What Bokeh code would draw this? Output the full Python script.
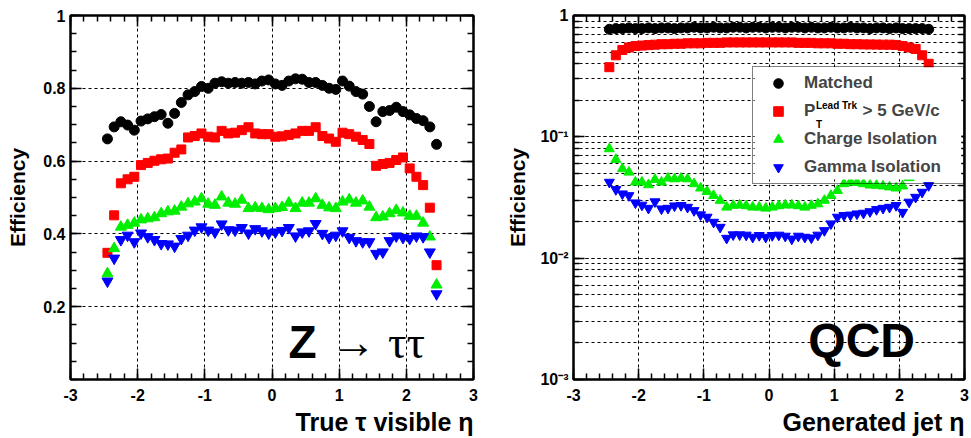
from bokeh.plotting import figure
from bokeh.layouts import row
from bokeh.models import (Range1d, FixedTicker, LinearAxis, LogAxis, Label,
                          Legend, LegendItem, BasicTickFormatter, Title, BoxAnnotation)
from bokeh.embed import file_html
from bokeh.resources import INLINE

# ---------------- data ----------------
eta = [-2.45, -2.35, -2.25, -2.15, -2.05, -1.95, -1.85, -1.75, -1.65, -1.55,
       -1.45, -1.35, -1.25, -1.15, -1.05, -0.95, -0.85, -0.75, -0.65, -0.55,
       -0.45, -0.35, -0.25, -0.15, -0.05, 0.05, 0.15, 0.25, 0.35, 0.45,
       0.55, 0.65, 0.75, 0.85, 0.95, 1.05, 1.15, 1.25, 1.35, 1.45,
       1.55, 1.65, 1.75, 1.85, 1.95, 2.05, 2.15, 2.25, 2.35, 2.45]

# Z -> tau tau
z_matched = [0.661, 0.694, 0.708, 0.699, 0.685, 0.710, 0.716, 0.722, 0.728, 0.704,
             0.731, 0.761, 0.782, 0.791, 0.805, 0.800, 0.814, 0.818, 0.814, 0.816,
             0.814, 0.816, 0.812, 0.820, 0.823, 0.812, 0.808, 0.820, 0.826, 0.825,
             0.816, 0.816, 0.808, 0.800, 0.797, 0.820, 0.806, 0.791, 0.784, 0.750,
             0.708, 0.736, 0.739, 0.748, 0.736, 0.727, 0.717, 0.711, 0.694, 0.646]
z_pt = [0.348, 0.451, 0.539, 0.550, 0.557, 0.589, 0.595, 0.601, 0.605, 0.607,
        0.623, 0.632, 0.665, 0.669, 0.676, 0.667, 0.665, 0.683, 0.676, 0.678,
        0.685, 0.693, 0.676, 0.674, 0.674, 0.667, 0.668, 0.672, 0.676, 0.683,
        0.683, 0.693, 0.669, 0.662, 0.653, 0.678, 0.674, 0.667, 0.658, 0.647,
        0.587, 0.592, 0.595, 0.603, 0.610, 0.580, 0.557, 0.534, 0.472, 0.314]
z_chg = [0.291, 0.360, 0.419, 0.424, 0.430, 0.439, 0.442, 0.445, 0.456, 0.461,
         0.463, 0.474, 0.483, 0.488, 0.497, 0.482, 0.479, 0.502, 0.485, 0.482,
         0.493, 0.470, 0.472, 0.470, 0.467, 0.470, 0.473, 0.485, 0.470, 0.485,
         0.485, 0.497, 0.479, 0.472, 0.470, 0.488, 0.494, 0.485, 0.491, 0.474,
         0.445, 0.447, 0.456, 0.465, 0.458, 0.449, 0.449, 0.430, 0.392, 0.260]
z_gam = [0.270, 0.333, 0.384, 0.396, 0.378, 0.402, 0.392, 0.384, 0.373, 0.372,
         0.366, 0.387, 0.396, 0.410, 0.419, 0.410, 0.405, 0.427, 0.411, 0.410,
         0.417, 0.402, 0.414, 0.408, 0.402, 0.405, 0.409, 0.417, 0.394, 0.405,
         0.408, 0.428, 0.401, 0.390, 0.396, 0.408, 0.390, 0.381, 0.378, 0.378,
         0.346, 0.350, 0.381, 0.394, 0.390, 0.387, 0.394, 0.392, 0.350, 0.235]

# QCD
q_matched = [0.77, 0.78, 0.78, 0.79, 0.78, 0.78, 0.79, 0.78, 0.79, 0.79,
             0.78, 0.79, 0.79, 0.80, 0.79, 0.79, 0.80, 0.79, 0.79, 0.80,
             0.80, 0.79, 0.80, 0.80, 0.79, 0.80, 0.80, 0.79, 0.80, 0.80,
             0.79, 0.80, 0.79, 0.79, 0.80, 0.79, 0.79, 0.80, 0.79, 0.79,
             0.78, 0.79, 0.79, 0.78, 0.79, 0.78, 0.78, 0.78, 0.78, 0.77]
q_pt = [0.375, 0.47, 0.52, 0.545, 0.56, 0.565, 0.57, 0.575, 0.58, 0.58,
        0.585, 0.585, 0.59, 0.59, 0.59, 0.595, 0.595, 0.595, 0.60, 0.60,
        0.60, 0.60, 0.60, 0.60, 0.60, 0.60, 0.60, 0.60, 0.60, 0.595,
        0.595, 0.595, 0.59, 0.59, 0.59, 0.585, 0.585, 0.58, 0.58, 0.578,
        0.577, 0.576, 0.575, 0.575, 0.572, 0.56, 0.545, 0.53, 0.47, 0.40]
q_chg = [0.0796, 0.065, 0.0545, 0.0511, 0.0423, 0.0423, 0.0402, 0.0445, 0.0423, 0.0456,
         0.045, 0.0456, 0.045, 0.041, 0.0378, 0.0354, 0.0328, 0.0299, 0.0263, 0.0272,
         0.0274, 0.027, 0.0263, 0.0263, 0.0258, 0.0263, 0.027, 0.0274, 0.0274, 0.027,
         0.0263, 0.0272, 0.028, 0.0299, 0.0328, 0.0361, 0.041, 0.0423, 0.042, 0.041,
         0.040, 0.0398, 0.0393, 0.0386, 0.0378, 0.0393, 0.046, 0.052, 0.060, 0.070]
q_gam = [0.0423, 0.0368, 0.0339, 0.0328, 0.0286, 0.0274, 0.0258, 0.0292, 0.0255, 0.0258,
         0.027, 0.0272, 0.0263, 0.0247, 0.0228, 0.0218, 0.0198, 0.018, 0.0146, 0.0156,
         0.0156, 0.0155, 0.0149, 0.0154, 0.0149, 0.0154, 0.0155, 0.0152, 0.0144, 0.0152,
         0.0149, 0.0147, 0.0155, 0.0169, 0.0192, 0.0218, 0.0225, 0.0227, 0.0232, 0.0235,
         0.0242, 0.0252, 0.0258, 0.0263, 0.0272, 0.0239, 0.029, 0.0318, 0.035, 0.0397]

series_names = ["Matched", "P\u00a0\u00a0\u00a0\u00a0\u00a0\u00a0\u00a0\u00a0\u00a0\u00a0> 5 GeV/c",
                "Charge Isolation", "Gamma Isolation"]
pt_superscript = "Lead Trk"
pt_subscript = "T"

x_ticks = [-3, -2, -1, 0, 1, 2, 3]
x_labels = ["-3", "-2", "-1", "0", "1", "2", "3"]
y_ticks_left = [0.2, 0.4, 0.6, 0.8, 1.0]
y_labels_left = ["0.2", "0.4", "0.6", "0.8", "1"]
y_ticks_right = [0.001, 0.01, 0.1, 1.0]
y_labels_right = ["10\u207b\u00b3", "10\u207b\u00b2", "10\u207b\u00b9", "1"]

FONT = "Liberation Sans"

# ---------------- helpers ----------------
x_minor = [round(-3 + 0.2 * k, 2) for k in range(31)]
yl_minor = [round(0.05 * k, 2) for k in range(21)]
yr_minor = [m * 10.0 ** e for e in (-3, -2, -1) for m in range(1, 10)] + [1.0]


def style_axis(ax, ticker, overrides=None, labels=True):
    ax.ticker = ticker
    ax.axis_line_width = 2
    ax.axis_line_color = "black"
    ax.major_tick_in = 11
    ax.major_tick_out = 0
    ax.minor_tick_in = 6
    ax.minor_tick_out = 0
    ax.major_tick_line_width = 1.5
    ax.minor_tick_line_width = 1.5
    ax.major_tick_line_color = "black"
    ax.minor_tick_line_color = "black"
    ax.major_label_text_font = FONT
    ax.major_label_text_font_style = "bold"
    ax.major_label_text_font_size = "16px"
    ax.major_label_text_color = "black"
    if overrides:
        ax.major_label_overrides = overrides
    if not labels:
        ax.major_label_text_font_size = "0px"
        ax.major_label_standoff = 0
        ax.major_label_text_color = None


def make_fig(logy, width, left, right):
    kw = dict(frame_width=width, frame_height=364, min_border_left=left,
              min_border_right=right, min_border_top=15, min_border_bottom=59,
              output_backend="svg", toolbar_location=None,
              x_range=Range1d(-3, 3))
    if logy:
        p = figure(y_axis_type="log", y_range=Range1d(0.001, 1.0), **kw)
    else:
        p = figure(y_range=Range1d(0.0, 1.0), **kw)
    p.outline_line_color = "black"
    p.outline_line_width = 2
    p.background_fill_color = "white"
    p.border_fill_color = "white"
    return p


def style_common(p, logy, xtitle):
    xt = FixedTicker(ticks=x_ticks, minor_ticks=x_minor)
    if logy:
        yt = FixedTicker(ticks=y_ticks_right, minor_ticks=yr_minor)
        yover = dict(zip(y_ticks_right, y_labels_right))
    else:
        yt = FixedTicker(ticks=y_ticks_left, minor_ticks=yl_minor)
        yover = dict(zip(y_ticks_left, y_labels_left))
    xover = dict(zip(x_ticks, x_labels))
    style_axis(p.xaxis[0], xt, xover)
    p.xaxis[0].major_label_standoff = 9
    style_axis(p.yaxis[0], yt, yover)
    p.yaxis[0].formatter = BasicTickFormatter()
    p.yaxis[0].major_label_standoff = 5
    p.yaxis[0].axis_label = "Efficiency"
    p.yaxis[0].axis_label_text_font = FONT
    p.yaxis[0].axis_label_text_font_style = "bold"
    p.yaxis[0].axis_label_text_font_size = "21px"
    p.yaxis[0].axis_label_text_color = "black"
    # x axis title, right aligned, below the axis
    p.add_layout(Title(text=xtitle, align="right", text_font=FONT,
                       text_font_style="bold", text_font_size="25px",
                       text_color="black", offset=0, standoff=4), "below")
    # extra axes for ticks on top and right
    top = LinearAxis()
    style_axis(top, FixedTicker(ticks=x_ticks, minor_ticks=x_minor), labels=False)
    p.add_layout(top, "above")
    right = LogAxis() if logy else LinearAxis()
    style_axis(right, FixedTicker(ticks=yt.ticks, minor_ticks=yt.minor_ticks), labels=False)
    p.add_layout(right, "right")
    # grids
    p.xgrid.ticker = FixedTicker(ticks=x_ticks)
    p.ygrid.ticker = yt
    for g in (p.xgrid[0], p.ygrid[0]):
        g.grid_line_color = "black"
        g.grid_line_dash = "3 3"
        g.grid_line_width = 1
    if logy:
        p.ygrid[0].minor_grid_line_color = "black"
        p.ygrid[0].minor_grid_line_dash = "3 3"
        p.ygrid[0].minor_grid_line_width = 1


# ---------------- left panel ----------------
p1 = make_fig(False, 403, 70, 30)
style_common(p1, False, "True \u03c4 visible \u03b7")
p1.yaxis[0].axis_label_standoff = 11
p1.scatter(eta, z_matched, marker="circle", size=10, color="black")
p1.scatter(eta, z_pt, marker="square", size=9, color="red")
p1.scatter(eta, z_chg, marker="triangle", size=11, color="#00ee00")
p1.scatter(eta, z_gam, marker="inverted_triangle", size=11, color="blue")

p1.add_layout(Label(x=0.244, y=0.103, text="Z", text_align="left",
                    text_baseline="alphabetic", text_font=FONT, text_font_style="bold",
                    text_font_size="46px", text_color="black"))
p1.add_layout(Label(x=0.87, y=0.103, text="\u2192 \u03c4\u03c4", text_align="left",
                    text_baseline="alphabetic", text_font="Liberation Serif",
                    text_font_size="46px", text_color="black"))

# ---------------- right panel ----------------
p2 = make_fig(True, 391, 69, 8)
style_common(p2, True, "Generated jet \u03b7")
p2.yaxis[0].axis_label_standoff = 8
r1 = p2.scatter(eta, q_matched, marker="circle", size=10, color="black")
r2 = p2.scatter(eta, q_pt, marker="square", size=9, color="red")
r3 = p2.scatter(eta, q_chg, marker="triangle", size=10, color="#00ee00")
r4 = p2.scatter(eta, q_gam, marker="inverted_triangle", size=10, color="blue")

# white backing for the legend (hides the points behind it)
p2.add_layout(BoxAnnotation(left=-0.22, right=2.95, top=0.375, bottom=0.0445,
                            fill_color="white", fill_alpha=1.0, line_color=None))

legend = Legend(items=[LegendItem(label=n, renderers=[r]) for n, r in
                       zip(series_names, [r1, r2, r3, r4])],
                location=(179, 195), label_text_font=FONT, label_text_font_style="bold",
                label_text_font_size="17px", label_height=24, glyph_height=24,
                glyph_width=42, label_width=155, spacing=4, padding=4, label_standoff=5,
                border_line_color="black", border_line_width=1.5,
                background_fill_alpha=0.0, margin=0)
p2.add_layout(legend)

p2.add_layout(Label(x=0.72, y=0.182, text=pt_superscript, text_align="left",
                    text_baseline="alphabetic", text_font=FONT, text_font_style="bold",
                    text_font_size="10px", text_color="black"))
p2.add_layout(Label(x=0.72, y=0.126, text=pt_subscript, text_align="left",
                    text_baseline="alphabetic", text_font=FONT, text_font_style="bold",
                    text_font_size="10px", text_color="black"))

p2.add_layout(Label(x=0.604, y=0.002094, text="QCD", text_align="left",
                    text_baseline="alphabetic", text_font=FONT, text_font_style="bold",
                    text_font_size="48px", text_color="black"))

layout = row(p1, p2)
open("out.html", "w").write(file_html(layout, INLINE))
